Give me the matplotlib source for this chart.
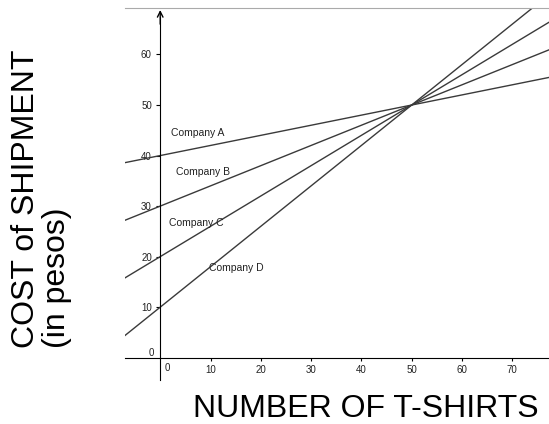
import matplotlib.pyplot as plt

plt.rcParams['font.family'] = ['Liberation Sans', 'DejaVu Sans']

# cost lines: value at 0 shirts and at 50 shirts
companies = ["Company A", "Company B", "Company C", "Company D"]
shirts_pts = [0, 50]
cost_at_0 = [40, 30, 20, 10]
cost_at_50 = [50, 50, 50, 50]

# where each company's label sits
label_x = [2.1, 3.2, 1.8, 9.8]
label_y = [44.4, 36.8, 26.6, 17.7]

x_ticks = [10, 20, 30, 40, 50, 60, 70]
y_ticks = [10, 20, 30, 40, 50, 60]

line_color = "#3a3a3a"

fig = plt.figure(figsize=(5.49, 4.24), dpi=100)
ax = fig.add_axes([125 / 549, 1 - 385 / 424, 424 / 549, 377 / 424])
ax.set_xlim(-7, 77.3)
ax.set_ylim(-5.4, 69.2)

for i in range(len(companies)):
    ax.axline((shirts_pts[0], cost_at_0[i]), (shirts_pts[1], cost_at_50[i]),
              color=line_color, linewidth=1)
    ax.text(label_x[i], label_y[i], companies[i], fontsize=7.5,
            ha="left", va="center", color="#222222")

# axes through the origin
ax.spines["right"].set_visible(False)
ax.spines["top"].set_color("#aaaaaa")
ax.spines["left"].set_position(("data", 0))
ax.spines["left"].set_bounds(-4.4, 67.5)
ax.spines["bottom"].set_position(("data", 0))
ax.annotate("", xy=(0, 68.8), xytext=(0, 66),
            arrowprops=dict(arrowstyle="->", color="black", lw=1,
                            shrinkA=0, shrinkB=0))

ax.set_xticks(x_ticks)
ax.set_yticks(y_ticks)
ax.tick_params(axis="x", direction="out", length=2, pad=3, labelsize=7,
               labelcolor="#222222")
ax.tick_params(axis="y", direction="out", length=3, pad=3, labelsize=7,
               labelcolor="#222222")
ax.text(1.5, -2.1, "0", fontsize=7, ha="center", va="center", color="#222222")
ax.text(-1.8, 0.9, "0", fontsize=7, ha="center", va="center", color="#222222")

fig.text(365.5 / 549, 1 - 409 / 424, "NUMBER OF T-SHIRTS", fontsize=23,
         ha="center", va="center")
fig.text(26 / 549, 1 - 348 / 424, "COST of SHIPMENT", fontsize=23,
         rotation=90, ha="center", va="bottom")
fig.text(57 / 549, 1 - 348 / 424, "(in pesos)", fontsize=23,
         rotation=90, ha="center", va="bottom")

fig.savefig("out.png", dpi=100)
